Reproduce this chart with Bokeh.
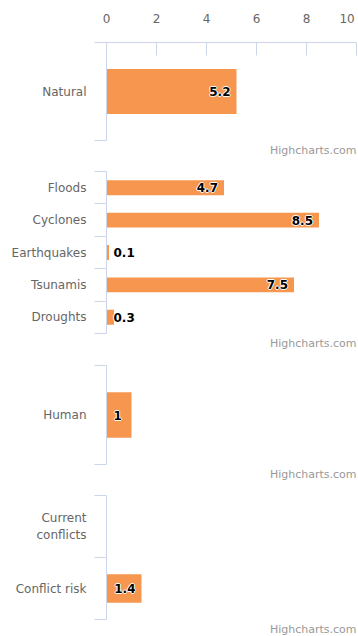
from bokeh.plotting import figure
from bokeh.layouts import column
from bokeh.models import Range1d, FixedTicker, LinearAxis, Title
from bokeh.embed import file_html
from bokeh.resources import INLINE
from bokeh.core.properties import value

# Scale shared by all four panels
x_ticks = [0, 2, 4, 6, 8, 10]

# Panel data
natural_cats = ["Natural"]
natural_vals = [5.2]

hazard_cats = ["Floods", "Cyclones", "Earthquakes", "Tsunamis", "Droughts"]
hazard_vals = [4.7, 8.5, 0.1, 7.5, 0.3]

human_cats = ["Human"]
human_vals = [1]

conflict_cats = ["Current\nconflicts", "Conflict risk"]
conflict_vals = [None, 1.4]

FONT = "DejaVu Sans"
AXIS_COLOR = "#ccd6eb"
BAR_COLOR = "#f7964f"
LABEL_COLOR = "#666666"
PX_PER_UNIT = 25.0


def outlined_text(p, xs, ys, texts, align, x_off):
    """Bold data labels with a thin white halo."""
    common = dict(text_font=value(FONT), text_font_size="12px",
                  text_font_style="bold", text_baseline="middle",
                  text_align=align)
    for dx, dy in [(-1, 0), (1, 0), (0, -1), (0, 1)]:
        p.text(x=xs, y=ys, text=texts, x_offset=x_off + dx, y_offset=dy,
               text_color="white", **common)
    p.text(x=xs, y=ys, text=texts, x_offset=x_off, text_color="#000000", **common)


def make_panel(cats, vals, height, border_top, border_bottom, top_axis=False):
    n = len(cats)
    p = figure(
        width=358, height=height,
        x_range=Range1d(0, 10), y_range=Range1d(n, 0),
        output_backend="svg", toolbar_location=None,
        x_axis_location="above" if top_axis else None,
        y_axis_location=None,
        min_border_left=106, min_border_right=2,
        min_border_top=border_top, min_border_bottom=border_bottom,
    )
    p.outline_line_color = None
    p.grid.grid_line_color = None
    p.background_fill_color = "white"
    p.border_fill_color = "white"

    centers = [i + 0.5 for i in range(n)]
    bounds = list(range(n + 1))

    # category axis with ticks between categories
    yaxis = LinearAxis(
        ticker=FixedTicker(ticks=centers, minor_ticks=bounds),
        major_label_overrides={c: name for c, name in zip(centers, cats)},
    )
    yaxis.axis_line_color = AXIS_COLOR
    yaxis.major_tick_line_color = None
    yaxis.major_tick_out = 0
    yaxis.major_tick_in = 0
    yaxis.minor_tick_line_color = AXIS_COLOR
    yaxis.minor_tick_out = 12
    yaxis.minor_tick_in = 0
    yaxis.major_label_standoff = 8
    yaxis.major_label_text_font = FONT
    yaxis.major_label_text_font_size = "12px"
    yaxis.major_label_text_color = LABEL_COLOR
    p.add_layout(yaxis, "left")

    if top_axis:
        xa = p.xaxis[0]
        xa.ticker = FixedTicker(ticks=x_ticks)
        xa.major_label_overrides = {10: "10\u00a0"}
        xa.axis_line_color = AXIS_COLOR
        xa.major_tick_line_color = AXIS_COLOR
        xa.major_tick_in = 13
        xa.major_tick_out = 0
        xa.minor_tick_line_color = None
        xa.major_label_standoff = 17
        xa.major_label_text_font = FONT
        xa.major_label_text_font_size = "12px"
        xa.major_label_text_color = LABEL_COLOR

    ys, rights = [], []
    in_x, in_y, in_t = [], [], []
    out_x, out_y, out_t = [], [], []
    for c, v in zip(centers, vals):
        if v is None:
            continue
        ys.append(c)
        rights.append(v)
        txt = f"{v:g}"
        if v * PX_PER_UNIT >= 32:
            in_x.append(v); in_y.append(c); in_t.append(txt)
        else:
            out_x.append(0); out_y.append(c); out_t.append(txt)

    p.hbar(y=ys, left=0, right=rights, height=0.46,
           fill_color=BAR_COLOR, line_color=None)

    if in_x:
        outlined_text(p, in_x, in_y, in_t, "right", -6)
    if out_x:
        outlined_text(p, out_x, out_y, out_t, "left", 7)

    credit = Title(text="Highcharts.com", align="right", text_font=FONT,
                   text_font_size="11px", text_font_style="normal",
                   text_color="#999999", standoff=2)
    p.add_layout(credit, "below")
    return p


p1 = make_panel(natural_cats, natural_vals, 160, 42, 20, top_axis=True)
p2 = make_panel(hazard_cats, hazard_vals, 195, 11, 22)
p3 = make_panel(human_cats, human_vals, 130, 10, 21)
p4 = make_panel(conflict_cats, conflict_vals, 151, 10, 17)

layout = column(p1, p2, p3, p4, spacing=0)
open("out.html", "w").write(file_html(layout, INLINE))
